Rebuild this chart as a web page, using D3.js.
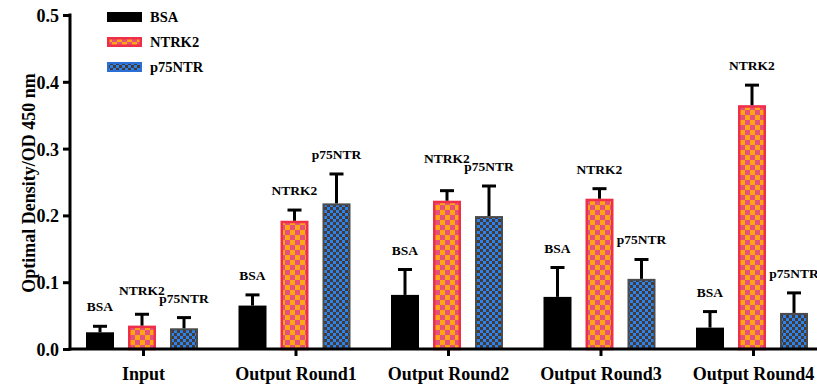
<!DOCTYPE html>
<html>
<head>
<meta charset="utf-8">
<script src="https://cdn.jsdelivr.net/npm/d3@7"></script>
<style>
  html, body { margin: 0; padding: 0; background: #fff; }
  svg { display: block; font-family: "Liberation Serif", "Times New Roman", serif; font-weight: bold; }
</style>
</head>
<body>
<svg id="chart" width="817" height="388"></svg>
<script>
// ELISA readings per panning round
var categories = ["Input", "Output Round1", "Output Round2", "Output Round3", "Output Round4"];
var seriesNames = ["BSA", "NTRK2", "p75NTR"];
var bsaMean    = [0.025, 0.065, 0.081, 0.078, 0.032];
var bsaErr     = [0.009, 0.016, 0.038, 0.044, 0.024];
var ntrk2Mean  = [0.035, 0.192, 0.222, 0.225, 0.365];
var ntrk2Err   = [0.017, 0.016, 0.015, 0.015, 0.030];
var p75Mean    = [0.031, 0.218, 0.199, 0.105, 0.054];
var p75Err     = [0.016, 0.044, 0.045, 0.029, 0.030];
var yTicks     = [0.0, 0.1, 0.2, 0.3, 0.4, 0.5];
var yTitle     = "Optimal Density/OD 450 nm";

var means = [bsaMean, ntrk2Mean, p75Mean];
var errs  = [bsaErr, ntrk2Err, p75Err];

var rows = [];
categories.forEach(function (c, i) {
  seriesNames.forEach(function (s, j) {
    rows.push({ cat: c, series: s, value: means[j][i], err: errs[j][i] });
  });
});

var svg = d3.select("#chart");
var defs = svg.append("defs");

// checker fill for NTRK2: pink with orange squares
var pN = defs.append("pattern").attr("id", "patNTRK2")
  .attr("patternUnits", "userSpaceOnUse").attr("width", 10).attr("height", 10);
pN.append("rect").attr("width", 10).attr("height", 10).attr("fill", "#e4517c");
pN.append("rect").attr("width", 5).attr("height", 5).attr("fill", "#ffa615");
pN.append("rect").attr("x", 5).attr("y", 5).attr("width", 5).attr("height", 5).attr("fill", "#ffa615");

// checker fill for p75NTR: dark grey with blue squares
var pP = defs.append("pattern").attr("id", "patP75")
  .attr("patternUnits", "userSpaceOnUse").attr("width", 6).attr("height", 6);
pP.append("rect").attr("width", 6).attr("height", 6).attr("fill", "#463a33");
pP.append("rect").attr("width", 3).attr("height", 3).attr("fill", "#2b83f0");
pP.append("rect").attr("x", 3).attr("y", 3).attr("width", 3).attr("height", 3).attr("fill", "#2b83f0");

var styles = {
  "BSA":    { fill: "#000000", stroke: "none", sw: 0 },
  "NTRK2":  { fill: "url(#patNTRK2)", stroke: "#ef2f48", sw: 2.5 },
  "p75NTR": { fill: "url(#patP75)", stroke: "#4b4b4b", sw: 2 }
};

var x0 = d3.scalePoint().domain(categories).range([143, 753]);
var x1 = d3.scaleBand().domain(seriesNames).range([-64, 62])
  .paddingInner(1 / 3).paddingOuter(1 / 6);
var y = d3.scaleLinear().domain([0, 0.5]).range([349, 15]);

var axisX = 70;

function barLeft(r) { return x0(r.cat) + x1(r.series); }
function barCenter(r) { return barLeft(r) + x1.bandwidth() / 2; }

// bars
svg.append("g").selectAll("rect").data(rows).join("rect")
  .attr("x", function (r) { return barLeft(r) + styles[r.series].sw / 2; })
  .attr("width", function (r) { return x1.bandwidth() - styles[r.series].sw; })
  .attr("y", function (r) { return y(r.value) + styles[r.series].sw / 2; })
  .attr("height", function (r) { return y(0) - y(r.value) - styles[r.series].sw / 2; })
  .attr("fill", function (r) { return styles[r.series].fill; })
  .attr("stroke", function (r) { return styles[r.series].stroke; })
  .attr("stroke-width", function (r) { return styles[r.series].sw; });

// upper error bars
var eb = svg.append("g").attr("stroke", "#000").attr("stroke-width", 3);
eb.selectAll("line.v").data(rows).join("line").attr("class", "v")
  .attr("x1", barCenter).attr("x2", barCenter)
  .attr("y1", function (r) { return y(r.value); })
  .attr("y2", function (r) { return y(r.value + r.err); });
eb.selectAll("line.cap").data(rows).join("line").attr("class", "cap")
  .attr("x1", function (r) { return barCenter(r) - 7; })
  .attr("x2", function (r) { return barCenter(r) + 7; })
  .attr("y1", function (r) { return y(r.value + r.err); })
  .attr("y2", function (r) { return y(r.value + r.err); });

// series labels above each error bar
var lbl = svg.append("g").attr("font-size", 13.5).attr("text-anchor", "middle").attr("fill", "#000");
var labels = lbl.selectAll("text").data(rows).join("text")
  .attr("x", barCenter)
  .attr("y", function (r) { return y(r.value + r.err) - 15; })
  .text(function (r) { return r.series; });

// lift a label when it runs into its right-hand neighbour
var nodes = labels.nodes();
for (var k = nodes.length - 2; k >= 0; k--) {
  if (rows[k].cat !== rows[k + 1].cat) continue;
  var a = nodes[k].getBBox(), b = nodes[k + 1].getBBox();
  var hOverlap = a.x + a.width > b.x - 2;
  var vOverlap = a.y < b.y + b.height && b.y < a.y + a.height;
  if (hOverlap && vOverlap) {
    var ny = Math.min(+nodes[k].getAttribute("y"), +nodes[k + 1].getAttribute("y") - 8);
    nodes[k].setAttribute("y", ny);
  }
}

// y axis
var yAxis = svg.append("g").attr("transform", "translate(" + axisX + ",0)")
  .call(d3.axisLeft(y).tickValues(yTicks).tickFormat(d3.format(".1f")).tickSize(7).tickPadding(4));
yAxis.select(".domain").attr("stroke", "#000").attr("stroke-width", 3)
  .attr("d", "M0," + (y(0.5) - 1.5) + "V" + (y(0) + 1.5));
yAxis.selectAll(".tick line").attr("stroke", "#000").attr("stroke-width", 3);
yAxis.selectAll(".tick text").attr("font-size", 18).attr("font-family", "Liberation Serif")
  .attr("font-weight", "bold").attr("fill", "#000").attr("dy", "0.36em");

// x axis
var xAxis = svg.append("g").attr("transform", "translate(0," + y(0) + ")")
  .call(d3.axisBottom(x0).tickSize(7).tickPadding(11));
xAxis.select(".domain").attr("stroke", "#000").attr("stroke-width", 3)
  .attr("d", "M" + (axisX - 1.5) + ",0H817");
xAxis.selectAll(".tick line").attr("stroke", "#000").attr("stroke-width", 3);
xAxis.selectAll(".tick text").attr("font-size", 18).attr("font-family", "Liberation Serif")
  .attr("font-weight", "bold").attr("fill", "#000");

// y axis title
svg.append("text")
  .attr("transform", "translate(35,183) rotate(-90)")
  .attr("text-anchor", "middle").attr("font-size", 18).attr("fill", "#000")
  .text(yTitle);

// legend
var leg = svg.append("g").attr("transform", "translate(107,12)");
var li = leg.selectAll("g").data(seriesNames).join("g")
  .attr("transform", function (s, i) { return "translate(0," + (i * 25) + ")"; });
li.append("rect")
  .attr("x", function (s) { return styles[s].sw / 2; })
  .attr("y", function (s) { return styles[s].sw / 2; })
  .attr("width", function (s) { return 35 - styles[s].sw; })
  .attr("height", function (s) { return 10 - styles[s].sw; })
  .attr("fill", function (s) { return styles[s].fill; })
  .attr("stroke", function (s) { return s === "p75NTR" ? "#2b6fd6" : styles[s].stroke; })
  .attr("stroke-width", function (s) { return styles[s].sw; });
li.append("text").attr("x", 43).attr("y", 9.5).attr("font-size", 14.5).attr("fill", "#000")
  .text(function (s) { return s; });
</script>
</body>
</html>
